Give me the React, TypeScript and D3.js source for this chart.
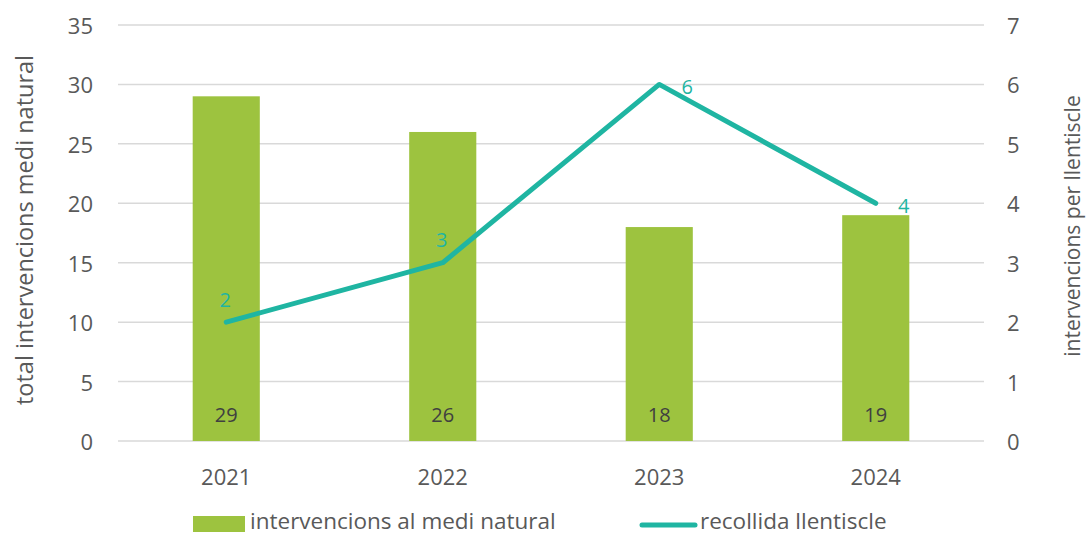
import React from "react";
import * as d3 from "d3";

const years = ["2021", "2022", "2023", "2024"];
const interventions = [29, 26, 18, 19];
const lentisc = [2, 3, 6, 4];
const leftTicks = [0, 5, 10, 15, 20, 25, 30, 35];
const rightTicks = [0, 1, 2, 3, 4, 5, 6, 7];
const lineLabelPos = ["above", "above", "right", "right"];

const W = 1087;
const H = 534;
const FONT = "'Open Sans', 'Noto Sans', sans-serif";
const GREEN = "#9DC33F";
const TEAL = "#1FB5A2";
const TEXT = "#595959";

export default function App() {
  const x = d3.scaleBand<string>().domain(years).range([118, 984]).padding(0);
  const yL = d3.scaleLinear().domain([0, 35]).range([441, 25]);
  const yR = d3.scaleLinear().domain([0, 7]).range([441, 25]);
  const barW = x.step() * 0.31;
  const cx = (d: string) => (x(d) as number) + x.bandwidth() / 2;

  const line = d3
    .line<number>()
    .x((_, i) => cx(years[i]))
    .y((d) => yR(d));

  return (
    <svg
      width={W}
      height={H}
      style={{ position: "absolute", left: 0, top: 0, background: "#fff" }}
      fontFamily={FONT}
    >
      {leftTicks.map((t) => (
        <line
          key={"g" + t}
          x1={118}
          x2={984}
          y1={yL(t)}
          y2={yL(t)}
          stroke="#D9D9D9"
          strokeWidth={1.5}
        />
      ))}
      {leftTicks.map((t) => (
        <text
          key={"l" + t}
          x={93}
          y={yL(t)}
          textAnchor="end"
          dominantBaseline="central"
          fontSize={22}
          fill={TEXT}
        >
          {t}
        </text>
      ))}
      {rightTicks.map((t) => (
        <text
          key={"r" + t}
          x={1007}
          y={yR(t)}
          textAnchor="start"
          dominantBaseline="central"
          fontSize={22}
          fill={TEXT}
        >
          {t}
        </text>
      ))}
      {years.map((yr, i) => (
        <rect
          key={"b" + yr}
          x={cx(yr) - barW / 2}
          y={yL(interventions[i])}
          width={barW}
          height={yL(0) - yL(interventions[i])}
          fill={GREEN}
        />
      ))}
      {years.map((yr, i) => (
        <text
          key={"bl" + yr}
          x={cx(yr)}
          y={414}
          textAnchor="middle"
          dominantBaseline="central"
          fontSize={20}
          fill="#404040"
        >
          {interventions[i]}
        </text>
      ))}
      <path
        d={line(lentisc) as string}
        fill="none"
        stroke={TEAL}
        strokeWidth={5}
        strokeLinecap="round"
        strokeLinejoin="round"
      />
      {years.map((yr, i) => {
        const px = cx(yr);
        const py = yR(lentisc[i]);
        const above = lineLabelPos[i] === "above";
        return (
          <text
            key={"ll" + yr}
            x={above ? px - 1 : px + 28}
            y={above ? py - 23 : py + 2}
            textAnchor="middle"
            dominantBaseline="central"
            fontSize={20}
            fill={TEAL}
          >
            {lentisc[i]}
          </text>
        );
      })}
      {years.map((yr) => (
        <text
          key={"x" + yr}
          x={cx(yr)}
          y={476}
          textAnchor="middle"
          dominantBaseline="central"
          fontSize={22}
          fill={TEXT}
        >
          {yr}
        </text>
      ))}
      <text
        transform="translate(24,230) rotate(-90)"
        textAnchor="middle"
        dominantBaseline="central"
        fontSize={23.5}
        fill={TEXT}
      >
        total intervencions medi natural
      </text>
      <text
        transform="translate(1072,226) rotate(-90)"
        textAnchor="middle"
        dominantBaseline="central"
        fontSize={21}
        fill={TEXT}
      >
        intervencions per llentiscle
      </text>
      <rect x={193} y={516} width={52} height={16} fill={GREEN} />
      <text x={250} y={520} dominantBaseline="central" fontSize={22.5} fill={TEXT}>
        intervencions al medi natural
      </text>
      <line
        x1={642}
        x2={695}
        y1={525}
        y2={525}
        stroke={TEAL}
        strokeWidth={5}
        strokeLinecap="round"
      />
      <text x={700} y={520} dominantBaseline="central" fontSize={22.5} fill={TEXT}>
        recollida llentiscle
      </text>
    </svg>
  );
}
